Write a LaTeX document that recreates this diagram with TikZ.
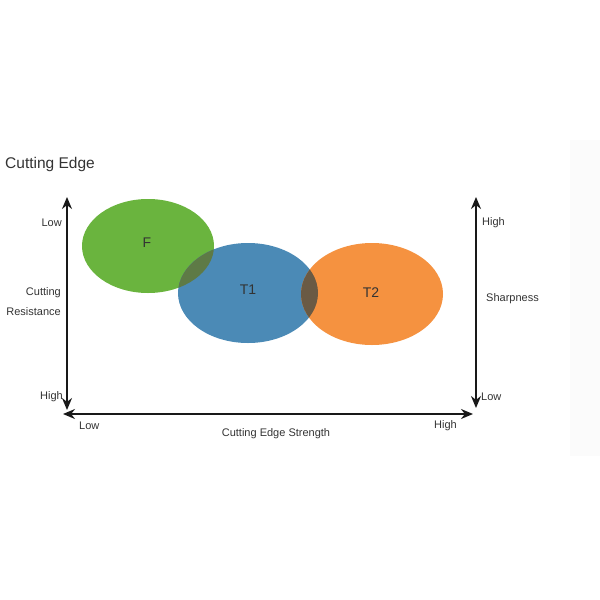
\documentclass[tikz,border=0pt]{standalone}
\usepackage{fontspec}
\setmainfont{Liberation Sans}
\usetikzlibrary{shapes.geometric,arrows.meta}
\definecolor{fgreen}{HTML}{6AB43E}
\definecolor{tblue}{HTML}{4B8AB6}
\definecolor{torange}{HTML}{F59240}
\definecolor{gbmix}{HTML}{5E7A46}
\definecolor{bomix}{HTML}{6A5A44}
\definecolor{txt}{HTML}{333333}
\tikzset{
  axis/.style={line width=1.5pt, black!90, {Stealth[length=12pt,width=10pt]}-{Stealth[length=12pt,width=10pt]}},
  lbl/.style={font=\fontsize{11}{13}\selectfont, text=txt, inner sep=0pt},
  blob/.style={ellipse, inner sep=0pt, font=\fontsize{14}{16}\selectfont, text=black!80}
}
\begin{document}
\begin{tikzpicture}[x=1pt, y=-1pt]
        \useasboundingbox (0,0) rectangle (600,600);
        \fill[black!1.5] (570,140) rectangle (600,456);

        % title
        \node[anchor=west, inner sep=0pt, font=\fontsize{15.5}{18}\selectfont, text=txt] (title) at (5,164) {Cutting Edge};

        % ellipses
        \node[blob, fill=fgreen, minimum width=132pt, minimum height=94pt] (f) at (148,246) {};
        \node[blob, fill=tblue, minimum width=140pt, minimum height=100pt] (t1) at (248,293) {};
        \node[blob, fill=torange, minimum width=142pt, minimum height=102pt] (t2) at (372,294) {};

        % overlaps
        \begin{scope}
            \clip (148,246) ellipse [x radius=66, y radius=47];
            \fill[gbmix] (248,293) ellipse [x radius=70, y radius=50];
        \end{scope}
        \begin{scope}
            \clip (248,293) ellipse [x radius=70, y radius=50];
            \fill[bomix] (372,294) ellipse [x radius=71, y radius=51];
        \end{scope}

        \node[blob] at (147,243) {F};
        \node[blob] at (248,290) {T1};
        \node[blob] at (371,293) {T2};

        % axes
        \coordinate (ltop) at (67,197);
        \coordinate (lbot) at (67,410);
        \coordinate (bl) at (63,414);
        \coordinate (br) at (473,414);
        \coordinate (rtop) at (476,197);
        \coordinate (rbot) at (476,408);
        \draw[axis] (ltop) -- (lbot);
        \draw[axis] (bl) -- (br);
        \draw[axis] (rtop) -- (rbot);

        % left labels
        \node[lbl, anchor=east] (llow) at (62,223) {Low};
        \node[lbl, anchor=east] (lcut) at (61,293) {Cutting};
        \node[lbl, anchor=east] (lres) at (61,312) {Resistance};
        \node[lbl, anchor=east] (lhigh) at (63,397) {High};

        % bottom labels
        \node[lbl, anchor=west] (blow) at (79,426) {Low};
        \node[lbl, anchor=east] (bhigh) at (457,426) {High};
        \node[lbl] (bname) at (276,434) {Cutting Edge Strength};

        % right labels
        \node[lbl, anchor=west] (rhigh) at (482,223) {High};
        \node[lbl, anchor=west] (rname) at (486,299) {Sharpness};
        \node[lbl, anchor=west] (rlow) at (481,397) {Low};
    \end{tikzpicture}
\end{document}
